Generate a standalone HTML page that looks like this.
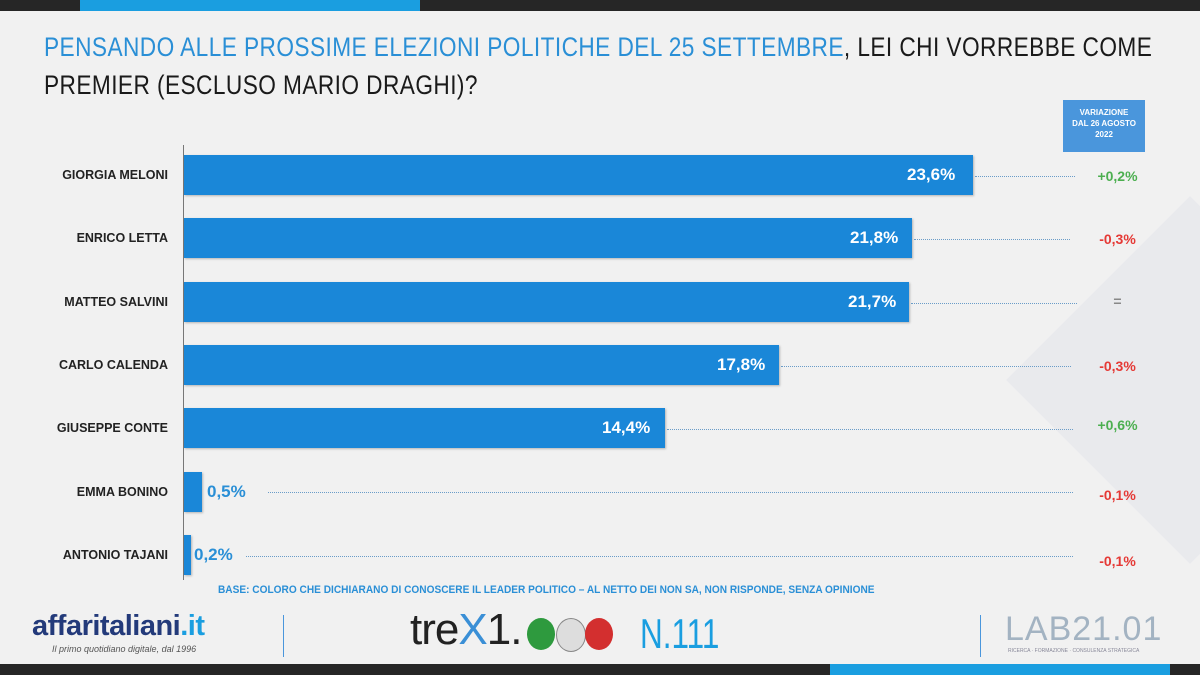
<!DOCTYPE html>
<html><head><meta charset="utf-8"><style>
body{margin:0;width:1200px;height:675px;overflow:hidden;background:#f1f1f1;font-family:"Liberation Sans",sans-serif;position:relative}
.a{position:absolute}
.bar{position:absolute;left:184px;height:40px;background:#1a87d8;box-shadow:1px 1px 2px rgba(0,0,0,.25)}
.lab{position:absolute;right:1032px;width:200px;text-align:right;font-weight:bold;font-size:12.5px;color:#222}
.val{position:absolute;color:#fff;font-weight:bold;font-size:17px}
.dot{position:absolute;border-top:1px dotted #6a9cc8;height:0}
.var{position:absolute;left:1080px;width:75px;text-align:center;font-weight:bold;font-size:14px}
.t{position:absolute;left:44px;font-size:27px;letter-spacing:0.5px;white-space:nowrap;transform:scaleX(0.84);transform-origin:left;color:#1a1a1a;font-family:'Liberation Sans Narrow','Liberation Sans',sans-serif}
</style></head><body>
<div class="a" style="left:1060px;top:250px;width:260px;height:260px;background:#e9eaed;transform:rotate(45deg)"></div>
<div class="a" style="left:0;top:0;width:1200px;height:11px;background:#262626"></div>
<div class="a" style="left:80px;top:0;width:340px;height:11px;background:#1a9ee0"></div>
<div class="t" style="top:32px"><span style="color:#2a8fd6">PENSANDO ALLE PROSSIME ELEZIONI POLITICHE DEL 25 SETTEMBRE</span>, LEI CHI VORREBBE COME</div>
<div class="t" style="top:70px">PREMIER (ESCLUSO MARIO DRAGHI)?</div>
<div class="a" style="left:1063px;top:100px;width:82px;height:52px;background:#4a96dc;color:#fff;font-size:8px;font-weight:bold;text-align:center;line-height:11px;padding-top:7px;box-sizing:border-box">VARIAZIONE<br>DAL 26 AGOSTO<br>2022</div>
<div class="a" style="left:183px;top:145px;width:1px;height:435px;background:#777"></div>

<div class="lab" style="top:168px">GIORGIA MELONI</div>
<div class="bar" style="top:155px;width:789px"></div><div class="val" style="left:907px;top:165px">23,6%</div>
<div class="dot" style="left:975px;top:176px;width:100px"></div><div class="var" style="top:168px;color:#4caf50">+0,2%</div>

<div class="lab" style="top:231px">ENRICO LETTA</div>
<div class="bar" style="top:218px;width:728px"></div><div class="val" style="left:850px;top:228px">21,8%</div>
<div class="dot" style="left:914px;top:239px;width:156px"></div><div class="var" style="top:231px;color:#e53935">-0,3%</div>

<div class="lab" style="top:295px">MATTEO SALVINI</div>
<div class="bar" style="top:282px;width:725px"></div><div class="val" style="left:848px;top:292px">21,7%</div>
<div class="dot" style="left:911px;top:303px;width:166px"></div><div class="var" style="top:293px;color:#888">=</div>

<div class="lab" style="top:358px">CARLO CALENDA</div>
<div class="bar" style="top:345px;width:595px"></div><div class="val" style="left:717px;top:355px">17,8%</div>
<div class="dot" style="left:781px;top:366px;width:290px"></div><div class="var" style="top:358px;color:#e53935">-0,3%</div>

<div class="lab" style="top:421px">GIUSEPPE CONTE</div>
<div class="bar" style="top:408px;width:481px"></div><div class="val" style="left:602px;top:418px">14,4%</div>
<div class="dot" style="left:667px;top:429px;width:406px"></div><div class="var" style="top:417px;color:#4caf50">+0,6%</div>

<div class="lab" style="top:485px">EMMA BONINO</div>
<div class="bar" style="top:472px;width:18px"></div><div class="val" style="left:207px;top:482px;color:#2a8fd6">0,5%</div>
<div class="dot" style="left:268px;top:492px;width:805px"></div><div class="var" style="top:487px;color:#e53935">-0,1%</div>

<div class="lab" style="top:548px">ANTONIO TAJANI</div>
<div class="bar" style="top:535px;width:7px"></div><div class="val" style="left:194px;top:545px;color:#2a8fd6">0,2%</div>
<div class="dot" style="left:246px;top:556px;width:827px"></div><div class="var" style="top:553px;color:#e53935">-0,1%</div>

<div class="a" style="left:218px;top:584px;font-size:11px;font-weight:bold;color:#2a8fd6;transform:scaleX(0.92);transform-origin:left;white-space:nowrap">BASE: COLORO CHE DICHIARANO DI CONOSCERE IL LEADER POLITICO – AL NETTO DEI NON SA, NON RISPONDE, SENZA OPINIONE</div>
<div class="a" style="left:32px;top:610px;font-size:29px;font-weight:bold;color:#233a7a;letter-spacing:-0.5px">affaritaliani<span style="color:#1a9ee0">.it</span></div>
<div class="a" style="left:52px;top:644px;font-size:9px;font-style:italic;color:#555">Il primo quotidiano digitale, dal 1996</div>
<div class="a" style="left:283px;top:615px;width:1px;height:42px;background:#4a96dc"></div>
<div class="a" style="left:410px;top:605px;font-size:44px;color:#222;letter-spacing:-1px">tre<span style="color:#3a8fd6">X</span>1.</div>
<div class="a" style="left:527px;top:618px;width:28px;height:32px;border-radius:50%;background:#2e9a3e"></div>
<div class="a" style="left:556px;top:618px;width:28px;height:32px;border-radius:50%;background:#ddd;border:1px solid #888"></div>
<div class="a" style="left:585px;top:618px;width:28px;height:32px;border-radius:50%;background:#d32f2f"></div>
<div class="a" style="left:640px;top:610px;font-size:42px;color:#1a9ee0;transform:scaleX(0.75);transform-origin:left">N.111</div>
<div class="a" style="left:980px;top:615px;width:1px;height:42px;background:#4a96dc"></div>
<div class="a" style="left:1005px;top:610px;font-size:34px;color:#a3b3c2;letter-spacing:1px">LAB21.01</div>
<div class="a" style="left:1008px;top:648px;font-size:5px;color:#889">RICERCA · FORMAZIONE · CONSULENZA STRATEGICA</div>
<div class="a" style="left:0;top:664px;width:1200px;height:11px;background:#262626"></div>
<div class="a" style="left:830px;top:664px;width:340px;height:11px;background:#1a9ee0"></div>
</body></html>
